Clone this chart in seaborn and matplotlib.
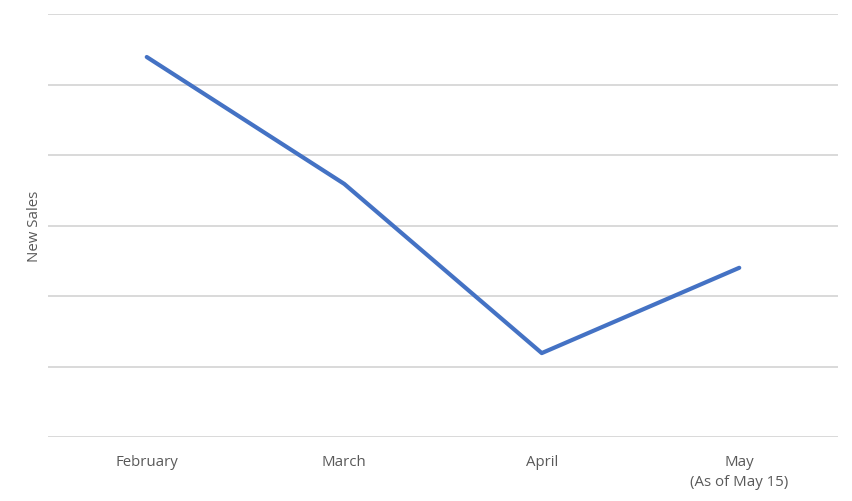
import matplotlib
matplotlib.use("Agg")
import matplotlib.pyplot as plt
import seaborn as sns
import pandas as pd

months = ["February", "March", "April", "May\n(As of May 15)"]
new_sales = [5.39, 3.59, 1.19, 2.40]

sns.set_theme(style="white")
plt.rcParams['font.family'] = ['Open Sans', 'DejaVu Sans']

df = pd.DataFrame({"month": months, "sales": new_sales})

W, H = 853, 502
fig = plt.figure(figsize=(W / 100, H / 100), dpi=100)
ax = fig.add_axes([48 / W, 1 - 438 / H, (838 - 48) / W, (438 - 15) / H])

sns.lineplot(data=df, x="month", y="sales", ax=ax, color="#4472C4",
             linewidth=3.0, sort=False, solid_capstyle="round")

ax.set_xlim(-0.5, 3.5)
ax.set_ylim(0, 6)
ax.set_yticks(range(0, 7))
ax.set_yticklabels([])
ax.tick_params(axis="y", length=0)
ax.tick_params(axis="x", length=0, pad=12, labelsize=10.8, colors="#595959")
ax.yaxis.grid(True, color="#D9D9D9", linewidth=1.4)
ax.set_axisbelow(True)
for s in ax.spines.values():
    s.set_visible(False)
ax.set_xlabel("")
ax.set_ylabel("New Sales", fontsize=10.8, color="#595959", labelpad=0.5)
for lbl in ax.get_xticklabels():
    lbl.set_linespacing(1.5)

fig.savefig("out.png", dpi=100, facecolor="white")
